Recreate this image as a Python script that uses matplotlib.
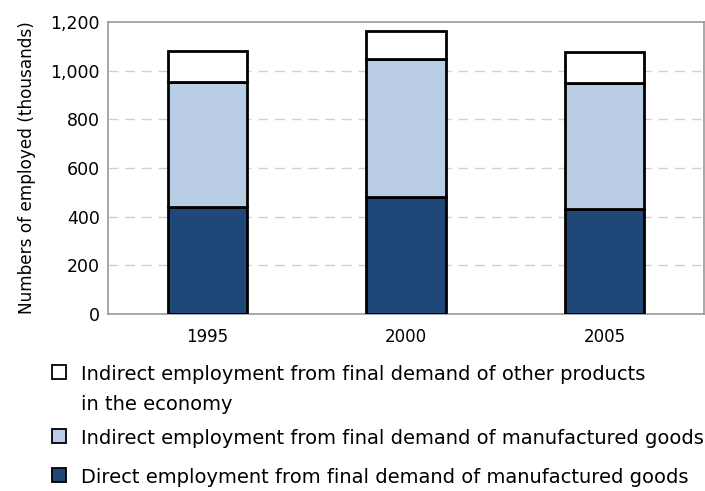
import matplotlib
matplotlib.use("Agg")
import matplotlib.pyplot as plt
from matplotlib.patches import Rectangle
import numpy as np

years = ["1995", "2000", "2005"]
direct_mfg = [441, 482, 432]
indirect_mfg = [514, 567, 516]
indirect_other = [125, 114, 128]

labels = [
    "Indirect employment from final demand of other products\nin the economy",
    "Indirect employment from final demand of manufactured goods",
    "Direct employment from final demand of manufactured goods",
]
colors = ["#ffffff", "#b9cde4", "#1f4879"]

plt.rcParams['font.family'] = ['DejaVu Sans']

W, H = 705, 491
fig = plt.figure(figsize=(W / 100, H / 100), dpi=100)
ax = fig.add_axes([108 / W, 1 - 314 / H, 596 / W, 292 / H])

x = np.arange(len(years))
w = 0.40
bottom = np.zeros(len(years))
for vals, c in zip([direct_mfg, indirect_mfg, indirect_other], colors[::-1]):
    ax.bar(x, vals, w, bottom=bottom, color=c, edgecolor="black", linewidth=2, zorder=3)
    bottom += np.array(vals)

ax.set_xlim(-0.5, 2.5)
ax.set_ylim(0, 1200)
ax.set_yticks(range(0, 1201, 200))
ax.set_yticklabels([f"{v:,}" for v in range(0, 1201, 200)], fontsize=12.5)
ax.set_xticks(x)
ax.set_xticklabels(years, fontsize=12)
ax.tick_params(axis="y", length=0, pad=6)
ax.tick_params(axis="x", length=0, pad=10)
ax.set_ylabel("Numbers of employed (thousands)", fontsize=12.2, labelpad=10)
for y in range(200, 1200, 200):
    ax.axhline(y, color="#d0d0d0", linestyle=(0, (7, 5)), linewidth=1, zorder=1)
for s in ax.spines.values():
    s.set_color("#999999")
    s.set_linewidth(1.2)

# legend drawn by hand: square + text lines (baselines in pixels from top)
baselines = [380, 444, 483]
line_step = 30
for c, lab, b in zip(colors, labels, baselines):
    fig.patches.append(Rectangle((52 / W, 1 - (b - 1) / H), 14 / W, 14 / H,
                                 transform=fig.transFigure, facecolor=c,
                                 edgecolor="black", linewidth=1.3))
    for i, line in enumerate(lab.split("\n")):
        fig.text(81 / W, 1 - (b + i * line_step) / H, line, fontsize=14,
                 va="baseline", ha="left")

fig.savefig("out.png", dpi=100)
